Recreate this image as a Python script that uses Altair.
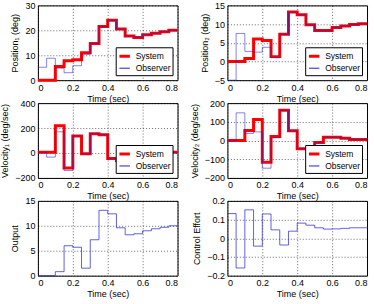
import altair as alt
import pandas as pd

# Time samples (stairs, 0.05 s steps; last value repeated at 0.8)
t = [0.0, 0.05, 0.1, 0.15, 0.2, 0.25, 0.3, 0.35, 0.4, 0.45, 0.5, 0.55, 0.6, 0.65, 0.7, 0.75, 0.8]

pos1_sys = [0, 0, 5.5, 7.8, 8.2, 11.0, 14.7, 21.5, 24.0, 20.5, 17.7, 17.1, 18.2, 18.8, 19.4, 20.0, 20.0]
pos1_obs = [5.2, 8.8, 4.8, 3.0, 5.8, 10.4, 14.7, 21.5, 24.0, 20.5, 17.7, 17.1, 18.2, 18.8, 19.4, 20.0, 20.0]

pos2_sys = [0, 0, 0.8, 6.0, 5.6, 1.3, 7.3, 13.2, 12.5, 9.8, 8.3, 8.3, 9.1, 9.5, 9.9, 10.1, 10.1]
pos2_obs = [-5.0, 7.5, 2.7, 2.5, 3.8, 1.0, 7.3, 13.2, 12.5, 9.8, 8.3, 8.3, 9.1, 9.5, 9.9, 10.1, 10.1]

vel1_sys = [5, 5, 218, -120, 136, -7, 155, 147, -45, -60, -10, 15, 30, 25, 10, 5, 5]
vel1_obs = [5, -33, 170, -140, 136, -7, 155, 147, -45, -60, -10, 15, 30, 25, 10, 5, 5]

vel2_sys = [0, 0, 53, 112, -116, 22, 162, 52, -44, -44, -10, 17, 17, 12, 5, 5, 5]
vel2_obs = [0, 148, 38, 46, -148, 15, 162, 52, -44, -44, -10, 17, 17, 12, 5, 5, 5]

output = [0, 0, 0.8, 6.0, 5.7, 1.5, 7.2, 13.1, 12.4, 9.6, 8.2, 8.4, 9.0, 9.4, 9.7, 10.0, 10.0]
control = [0.132, -0.159, 0.152, -0.042, 0.13, 0.045, -0.036, 0.038, 0.081, 0.07,
           0.056, 0.049, 0.05, 0.053, 0.056, 0.056, 0.056]

series_names = ["System", "Observer"]
series_colors = ["#ff0000", "#2020d0"]
series_widths = [3.0, 1.0]

x_ticks = [0, 0.2, 0.4, 0.6, 0.8]

W, H = 140, 75
FONT = "Liberation Sans"


def xenc():
    return alt.X("t:Q", scale=alt.Scale(domain=[0, 0.8], nice=False),
                 axis=alt.Axis(values=x_ticks, format=".2~f", title="Time (sec)"))


def yenc(title, domain, ticks):
    return alt.Y("v:Q", scale=alt.Scale(domain=domain, nice=False, zero=False),
                 axis=alt.Axis(values=ticks, format=".2~f", title=title))


def dual_panel(sys_vals, obs_vals, title, domain, ticks):
    df = pd.DataFrame({
        "t": t * 2,
        "v": sys_vals + obs_vals,
        "series": ["System"] * len(t) + ["Observer"] * len(t),
    })
    color = alt.Color("series:N", scale=alt.Scale(domain=series_names, range=series_colors),
                      legend=alt.Legend(title=None))
    width = alt.StrokeWidth("series:N", scale=alt.Scale(domain=series_names, range=series_widths),
                            legend=alt.Legend(title=None))
    red = alt.Chart(df).transform_filter(alt.datum.series == "System").mark_line(
        interpolate="step-after"
    ).encode(x=xenc(), y=yenc(title, domain, ticks), color=color, strokeWidth=width)
    blue = alt.Chart(df).transform_filter(alt.datum.series == "Observer").mark_line(
        interpolate="step-after", strokeOpacity=0.55
    ).encode(x=xenc(), y=yenc(title, domain, ticks), color=color, strokeWidth=width)
    return alt.layer(red, blue).properties(width=W, height=H)


def single_panel(vals, title, domain, ticks):
    df = pd.DataFrame({"t": t, "v": vals})
    return alt.Chart(df).mark_line(interpolate="step-after",
                                   color="#2020d0", strokeOpacity=0.7, strokeWidth=1).encode(
        x=xenc(), y=yenc(title, domain, ticks)
    ).properties(width=W, height=H)


p1 = dual_panel(pos1_sys, pos1_obs, "Position₁ (deg)", [0, 30], [0, 10, 20, 30])
p2 = dual_panel(pos2_sys, pos2_obs, "Position₂ (deg)", [-5, 15], [-5, 0, 5, 10, 15])
p3 = dual_panel(vel1_sys, vel1_obs, "Velocity₁ (deg/sec)", [-200, 400], [-200, 0, 200, 400])
p4 = dual_panel(vel2_sys, vel2_obs, "Velocity₂ (deg/sec)", [-200, 200], [-200, -100, 0, 100, 200])
p5 = single_panel(output, "Output", [0, 15], [0, 5, 10, 15])
p6 = single_panel(control, "Control Effort", [-0.2, 0.2], [-0.2, -0.1, 0, 0.1, 0.2])

chart = alt.concat(p1, p2, p3, p4, p5, p6, columns=2,
                   spacing={"row": 23, "column": 50}, bounds="flush").resolve_scale(
    x="independent", y="independent", color="independent", strokeWidth="independent"
).resolve_legend(
    color="independent", strokeWidth="independent"
).properties(
    padding={"left": 0, "top": 0, "right": 0, "bottom": 0}
).configure_view(
    stroke="black", strokeWidth=1
).configure_axis(
    grid=True, gridColor="black", gridDash=[1, 2], gridOpacity=0.75, gridWidth=0.8,
    domain=False, ticks=False,
    labelFont=FONT, labelFontSize=9, labelColor="black", labelPadding=3,
    titleFont=FONT, titleFontSize=9, titleFontWeight="normal", titleColor="black",
).configure_axisY(
    titlePadding=5
).configure_axisX(
    titlePadding=2
).configure_legend(
    orient="bottom-right", offset=5, fillColor="white", strokeColor="black", strokeWidth=1,
    padding=2, rowPadding=0, labelFont=FONT, labelFontSize=8.5, labelColor="black",
    symbolType="stroke", symbolSize=110, labelOffset=4
)

chart.save("out.html", embed_options={"renderer": "svg", "actions": False})
